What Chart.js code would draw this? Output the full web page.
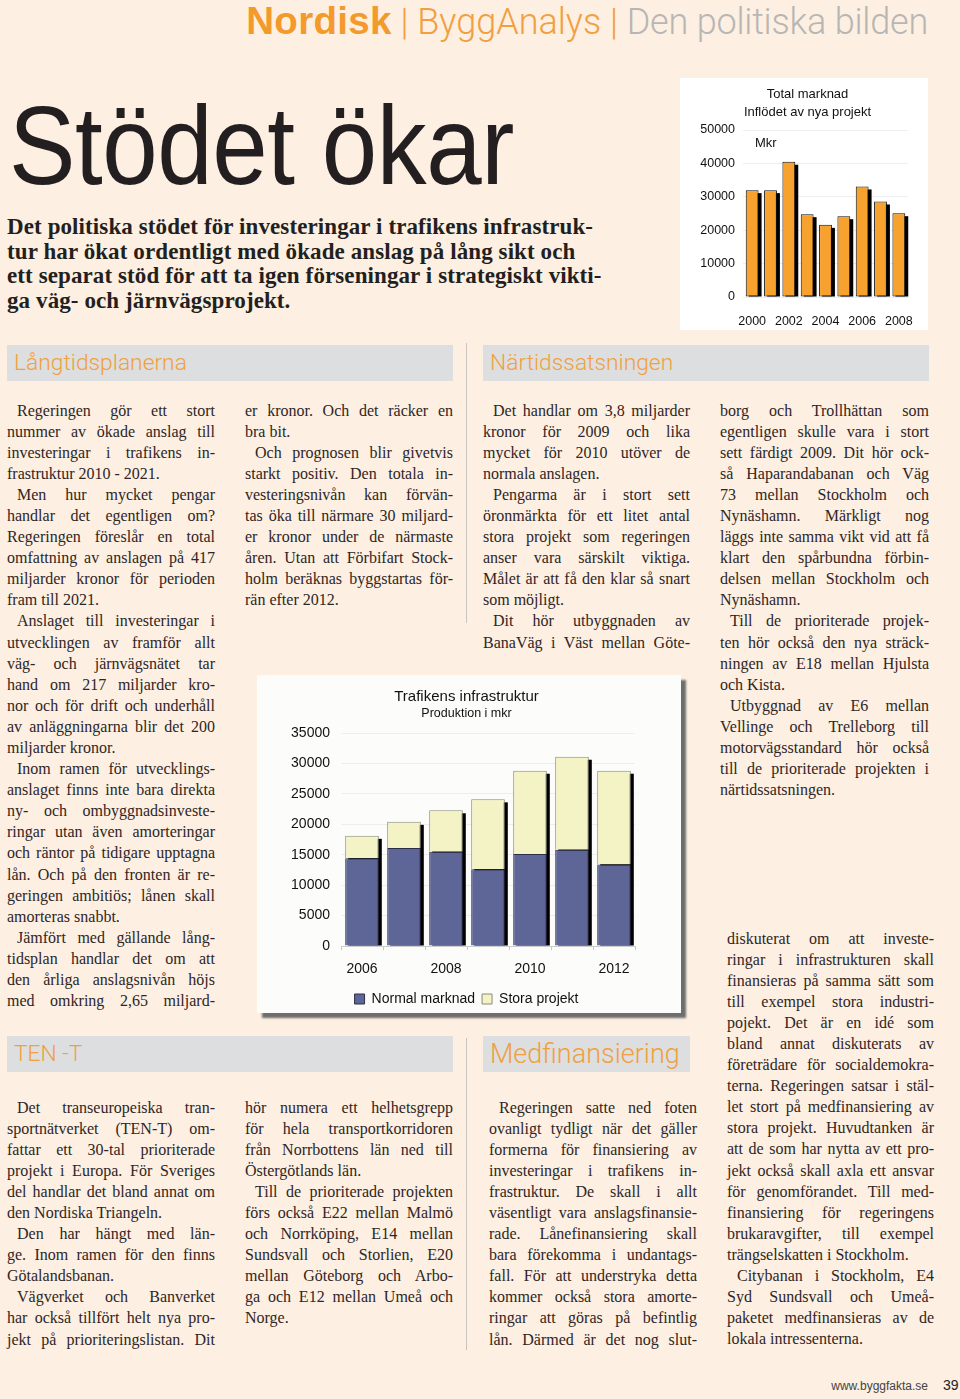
<!DOCTYPE html>
<html>
<head>
<meta charset="utf-8">
<script src="https://cdn.jsdelivr.net/npm/chart.js@4.4.1/dist/chart.umd.min.js"></script>
<style>
body { margin: 0; background: #fdefe1; }
#page { position: relative; width: 960px; height: 1399px; overflow: hidden; background: #fdefe1; font-family: "Liberation Serif", serif; color: #2e2626; }
.abs { position: absolute; }
#head { right: 32px; top: 0; font-family: "Liberation Sans", Arial, sans-serif; font-size: 36px; line-height: 42px; white-space: nowrap; }
#head b { color: #f39a2c; font-size: 38.5px; letter-spacing: 0.3px; }
#head .sep { color: #f0a040; font-family: Roboto, sans-serif; font-weight: 300; }
#head .bg { color: #f0a040; font-family: Roboto, sans-serif; font-weight: 300; letter-spacing: 0px; }
#head .gr { color: #b8b6b4; font-family: Roboto, sans-serif; font-weight: 300; letter-spacing: -0.2px; }
#title { left: 9px; top: 90px; font-family: "Liberation Sans", Arial, sans-serif; font-size: 112px; line-height: 112px; letter-spacing: -0.5px; color: #231f20; white-space: nowrap; transform: scaleX(0.89); transform-origin: 0 0; }
#lede { left: 7px; top: 215px; font-weight: bold; font-size: 23px; line-height: 24.5px; letter-spacing: 0.1px; color: #231f20; white-space: nowrap; }
.box { background: #dddedf; height: 36px; }
.box span { position: absolute; left: 7px; top: 0; line-height: 36px; font-family: Roboto, sans-serif; font-weight: 300; font-size: 22.8px; color: #f0a040; white-space: nowrap; }
.rule { width: 1px; background: #c9c4bf; }
.col { position: absolute; font-size: 16px; }
.ln { height: 21.1px; line-height: 21.1px; text-align: justify; text-align-last: justify; }
.ln.last { text-align-last: left; }
#topBox { left: 680px; top: 78px; width: 248px; height: 252px; background: #ffffff; }
#midBox { left: 257px; top: 675px; width: 424px; height: 338px; background: #fcfcfb; box-shadow: 5px 5px 2px #6e6e6e; }
#mkr { left: 755px; top: 135px; font-family: "Liberation Sans", Arial, sans-serif; font-size: 13px; color: #111; }
#foot { right: 32px; top: 1379px; font-family: "Liberation Sans", Arial, sans-serif; font-size: 12px; color: #444; }
#pnum { left: 943px; top: 1377px; font-family: "Liberation Sans", Arial, sans-serif; font-size: 14px; color: #222; }
</style>
</head>
<body>
<div id="page">
  <div id="head" class="abs"><b>Nordisk</b><span class="sep"> | </span><span class="bg">ByggAnalys</span><span class="sep"> | </span><span class="gr">Den politiska bilden</span></div>
  <div id="title" class="abs">Stödet ökar</div>
  <div id="lede" class="abs">Det politiska stödet för investeringar i trafikens infrastruk-<br>tur har ökat ordentligt med ökade anslag på lång sikt och<br>ett separat stöd för att ta igen förseningar i strategiskt vikti-<br>ga väg- och järnvägsprojekt.</div>

  <div id="topBox" class="abs"></div>
  <canvas id="topChart" class="abs" style="left:680px;top:78px;" width="248" height="252"></canvas>
  <div id="mkr" class="abs">Mkr</div>

  <div class="abs box" style="left:7px;top:345px;width:446px;"><span>Långtidsplanerna</span></div>
  <div class="abs box" style="left:483px;top:345px;width:446px;"><span>Närtidssatsningen</span></div>
  <div class="abs rule" style="left:466px;top:343px;height:280px;"></div>

  <div class="abs box" style="left:7px;top:1036px;width:446px;"><span>TEN -T</span></div>
  <div class="abs box" style="left:483px;top:1036px;width:207px;"><span style="font-size:27px;">Medfinansiering</span></div>
  <div class="abs rule" style="left:466px;top:1038px;height:312px;"></div>

  <div id="midBox" class="abs"></div>
  <canvas id="midChart" class="abs" style="left:258px;top:675px;" width="424" height="341"></canvas>

  <div id="foot" class="abs">www.byggfakta.se</div>
  <div id="pnum" class="abs">39</div>
</div>

<script>
// Total marknad, inflödet av nya projekt (Mkr)
const topYears = ['2000', '2001', '2002', '2003', '2004', '2005', '2006', '2007', '2008'];
const topValues = [32000, 32000, 40500, 24800, 21600, 24200, 33100, 28600, 25100];
const topTickYears = ['2000', '2002', '2004', '2006', '2008'];

// Trafikens infrastruktur, produktion i mkr
const midYears = ['2006', '2007', '2008', '2009', '2010', '2011', '2012'];
const normalMarknad = [14400, 16100, 15500, 12600, 15100, 15800, 13400];
const storaProjekt = [3700, 4300, 6800, 11500, 13700, 15300, 15400];
const midTickYears = ['2006', '2008', '2010', '2012'];

// ^ = first line of paragraph (indent), $ = last line of paragraph
const columns = [
  { x: 7, y: 410, w: 208, lines: [
    '^Regeringen gör ett stort', 'nummer av ökade anslag till', 'investeringar i trafikens in-', 'frastruktur 2010 - 2021.$',
    '^Men hur mycket pengar', 'handlar det egentligen om?', 'Regeringen föreslår en total', 'omfattning av anslagen på 417', 'miljarder kronor för perioden', 'fram till 2021.$',
    '^Anslaget till investeringar i', 'utvecklingen av framför allt', 'väg- och järnvägsnätet tar', 'hand om 217 miljarder kro-', 'nor och för drift och underhåll', 'av anläggningarna blir det 200', 'miljarder kronor.$',
    '^Inom ramen för utvecklings-', 'anslaget finns inte bara direkta', 'ny- och ombyggnadsinveste-', 'ringar utan även amorteringar', 'och räntor på tidigare upptagna', 'lån. Och på den fronten är re-', 'geringen ambitiös; lånen skall', 'amorteras snabbt.$',
    '^Jämfört med gällande lång-', 'tidsplan handlar det om att', 'den årliga anslagsnivån höjs', 'med omkring 2,65 miljard-'
  ] },
  { x: 245, y: 410, w: 208, lines: [
    'er kronor. Och det räcker en', 'bra bit.$',
    '^Och prognosen blir givetvis', 'starkt positiv. Den totala in-', 'vesteringsnivån kan förvän-', 'tas öka till närmare 30 miljard-', 'er kronor under de närmaste', 'åren. Utan att Förbifart Stock-', 'holm beräknas byggstartas för-', 'rän efter 2012.$'
  ] },
  { x: 483, y: 410, w: 207, lines: [
    '^Det handlar om 3,8 miljarder', 'kronor för 2009 och lika', 'mycket för 2010 utöver de', 'normala anslagen.$',
    '^Pengarma är i stort sett', 'öronmärkta för ett litet antal', 'stora projekt som regeringen', 'anser vara särskilt viktiga.', 'Målet är att få den klar så snart', 'som möjligt.$',
    '^Dit hör utbyggnaden av', 'BanaVäg i Väst mellan Göte-'
  ] },
  { x: 720, y: 410, w: 209, lines: [
    'borg och Trollhättan som', 'egentligen skulle vara i stort', 'sett färdigt 2009. Dit hör ock-', 'så Haparandabanan och Väg', '73 mellan Stockholm och', 'Nynäshamn. Märkligt nog', 'läggs inte samma vikt vid att få', 'klart den spårbundna förbin-', 'delsen mellan Stockholm och', 'Nynäshamn.$',
    '^Till de prioriterade projek-', 'ten hör också den nya sträck-', 'ningen av E18 mellan Hjulsta', 'och Kista.$',
    '^Utbyggnad av E6 mellan', 'Vellinge och Trelleborg till', 'motorvägsstandard hör också', 'till de prioriterade projekten i', 'närtidssatsningen.$'
  ] },
  { x: 727, y: 938, w: 207, lines: [
    'diskuterat om att investe-', 'ringar i infrastrukturen skall', 'finansieras på samma sätt som', 'till exempel stora industri-', 'pojekt. Det är en idé som', 'bland annat diskuterats av', 'företrädare för socialdemokra-', 'terna. Regeringen satsar i stäl-', 'let stort på medfinansiering av', 'stora projekt. Huvudtanken är', 'att de som har nytta av ett pro-', 'jekt också skall axla ett ansvar', 'för genomförandet. Till med-', 'finansiering för regeringens', 'brukaravgifter, till exempel', 'trängselskatten i Stockholm.$',
    '^Citybanan i Stockholm, E4', 'Syd Sundsvall och Umeå-', 'paketet medfinansieras av de', 'lokala intressenterna.$'
  ] },
  { x: 7, y: 1107, w: 208, lines: [
    '^Det transeuropeiska tran-', 'sportnätverket (TEN-T) om-', 'fattar ett 30-tal prioriterade', 'projekt i Europa. För Sveriges', 'del handlar det bland annat om', 'den Nordiska Triangeln.$',
    '^Den har hängt med län-', 'ge. Inom ramen för den finns', 'Götalandsbanan.$',
    '^Vägverket och Banverket', 'har också tillfört helt nya pro-', 'jekt på prioriteringslistan. Dit'
  ] },
  { x: 245, y: 1107, w: 208, lines: [
    'hör numera ett helhetsgrepp', 'för hela transportkorridoren', 'från Norrbottens län ned till', 'Östergötlands län.$',
    '^Till de prioriterade projekten', 'förs också E22 mellan Malmö', 'och Norrköping, E14 mellan', 'Sundsvall och Storlien, E20', 'mellan Göteborg och Arbo-', 'ga och E12 mellan Umeå och', 'Norge.$'
  ] },
  { x: 489, y: 1107, w: 208, lines: [
    '^Regeringen satte ned foten', 'ovanligt tydligt när det gäller', 'formerna för finansiering av', 'investeringar i trafikens in-', 'frastruktur. De skall i allt', 'väsentligt vara anslagsfinansie-', 'rade. Lånefinansiering skall', 'bara förekomma i undantags-', 'fall. För att understryka detta', 'kommer också stora amorte-', 'ringar att göras på befintlig', 'lån. Därmed är det nog slut-'
  ] }
];

const page = document.getElementById('page');
columns.forEach(c => {
  const col = document.createElement('div');
  col.className = 'col';
  col.style.left = c.x + 'px';
  col.style.top = (c.y - 10.5) + 'px';
  col.style.width = c.w + 'px';
  c.lines.forEach(t => {
    const d = document.createElement('div');
    d.className = 'ln';
    if (t.startsWith('^')) { t = t.slice(1); d.style.textIndent = '10px'; }
    if (t.endsWith('$')) { t = t.slice(0, -1); d.classList.add('last'); }
    d.textContent = t;
    col.appendChild(d);
  });
  page.appendChild(col);
});

// squeeze lines that would wrap
document.querySelectorAll('.ln').forEach(d => {
  d.style.height = 'auto';
  let ls = 0;
  while (d.offsetHeight > 30 && ls > -1.5) {
    ls -= 0.1;
    d.style.letterSpacing = ls + 'px';
  }
  d.style.height = '';
});

// black drop shadow behind each bar stack
const barShadow = {
  id: 'barShadow',
  beforeDatasetsDraw(chart, args, opts) {
    const ctx = chart.ctx;
    const first = chart.getDatasetMeta(0).data;
    const last = chart.getDatasetMeta(chart.data.datasets.length - 1).data;
    ctx.save();
    ctx.fillStyle = '#000';
    first.forEach((bar, i) => {
      const top = last[i].y;
      ctx.fillRect(bar.x - bar.width / 2 + opts.dx, top + opts.dy, bar.width, bar.base - top - opts.dy);
    });
    ctx.restore();
  }
};

// y labels stick out left of the (narrow) axis box; widen their clip area
const labelRoom = {
  id: 'labelRoom',
  afterLayout(chart) {
    chart.scales.y.left = 0;
  }
};

const font = 'Liberation Sans';
const plainNumber = v => String(v);

new Chart(document.getElementById('topChart'), {
  type: 'bar',
  data: {
    labels: topYears,
    datasets: [{
      data: topValues,
      backgroundColor: '#f7a12f',
      borderColor: '#111',
      borderWidth: 1,
      borderSkipped: false,
      barPercentage: 0.7,
      categoryPercentage: 1
    }]
  },
  options: {
    responsive: false,
    animation: false,
    layout: { padding: { left: 27, right: 20, top: 0, bottom: 0 } },
    plugins: {
      legend: { display: false },
      tooltip: { enabled: false },
      title: {
        display: true,
        text: ['Total marknad', 'Inflödet av nya projekt'],
        color: '#111',
        font: { family: font, size: 13, weight: 'normal', lineHeight: 1.385 },
        padding: { top: 7, bottom: 9 }
      },
      barShadow: { dx: 3, dy: 3 }
    },
    scales: {
      x: {
        grid: { display: false },
        border: { display: false },
        ticks: {
          autoSkip: false, maxRotation: 0, padding: 9, color: '#111',
          font: { family: font, size: 12.5 },
          callback: function (v, i) { const l = topYears[i]; return topTickYears.includes(l) ? l : ''; }
        },
        afterFit(s) { s.height = 33; }
      },
      y: {
        min: 0, max: 50000,
        grid: { color: '#eeeeee', drawTicks: false },
        border: { display: false },
        ticks: { stepSize: 10000, padding: 8, color: '#111', font: { family: font, size: 12.5 }, callback: plainNumber },
        afterFit(s) { s.width = 36; }
      }
    }
  },
  plugins: [barShadow, labelRoom]
});

new Chart(document.getElementById('midChart'), {
  type: 'bar',
  data: {
    labels: midYears,
    datasets: [{
      label: 'Normal marknad',
      data: normalMarknad,
      backgroundColor: '#5e6597',
      borderColor: '#2c2f48',
      borderWidth: 1,
      barPercentage: 0.8,
      categoryPercentage: 1
    }, {
      label: 'Stora projekt',
      data: storaProjekt,
      backgroundColor: '#f4f3c6',
      borderColor: '#8a8a78',
      borderWidth: 1,
      barPercentage: 0.8,
      categoryPercentage: 1
    }]
  },
  options: {
    responsive: false,
    animation: false,
    layout: { padding: { left: 40, right: 47, top: 0, bottom: 0 } },
    plugins: {
      tooltip: { enabled: false },
      title: {
        display: true,
        text: 'Trafikens infrastruktur',
        color: '#111',
        font: { family: font, size: 15, weight: 'normal', lineHeight: 1.2 },
        padding: { top: 13, bottom: 0 }
      },
      subtitle: {
        display: true,
        text: 'Produktion i mkr',
        color: '#111',
        font: { family: font, size: 12.5, lineHeight: 1.2 },
        padding: { top: 0, bottom: 12 }
      },
      legend: {
        position: 'bottom',
        labels: { boxWidth: 10, boxHeight: 10, padding: 7, color: '#111', font: { family: font, size: 14 } }
      },
      barShadow: { dx: 3, dy: 3 }
    },
    scales: {
      x: {
        stacked: true,
        grid: { display: true, drawOnChartArea: false, drawTicks: true, tickLength: 4, color: '#c8c8c8' },
        border: { display: true, color: '#cccccc' },
        ticks: {
          autoSkip: false, maxRotation: 0, padding: 11, color: '#111',
          font: { family: font, size: 14 },
          callback: function (v, i) { const l = midYears[i]; return midTickYears.includes(l) ? l : ''; }
        },
        afterFit(s) { s.height = 39; }
      },
      y: {
        stacked: true,
        min: 0, max: 35000,
        grid: { color: '#eeeeee', drawTicks: false },
        border: { display: false },
        ticks: { stepSize: 5000, padding: 11, color: '#111', font: { family: font, size: 14 }, callback: plainNumber },
        afterFit(s) { s.width = 43; }
      }
    }
  },
  plugins: [barShadow, labelRoom]
});
</script>
</body>
</html>
